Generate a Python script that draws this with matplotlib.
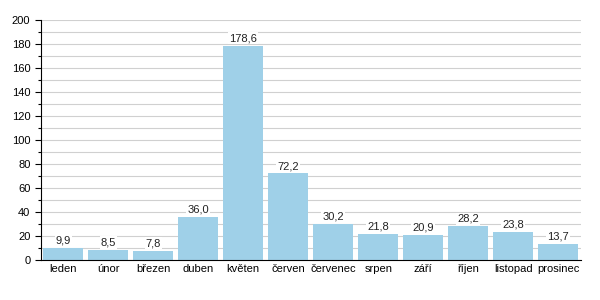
import matplotlib
matplotlib.use("Agg")
import matplotlib.pyplot as plt
from matplotlib.ticker import MultipleLocator

months = ["leden", "únor", "březen", "duben", "květen", "červen",
          "červenec", "srpen", "září", "říjen", "listopad", "prosinec"]
values = [9.9, 8.5, 7.8, 36.0, 178.6, 72.2, 30.2, 21.8, 20.9, 28.2, 23.8, 13.7]

plt.rcParams['font.family'] = ['Liberation Sans', 'DejaVu Sans']
fig = plt.figure(figsize=(6, 3), dpi=100)
ax = fig.add_axes([0.068, 0.133, 0.9, 0.8])

x = list(range(len(months)))
ax.bar(x, values, width=0.89, color='#9fd0e8', zorder=2)
for xi, v in zip(x, values):
    ax.text(xi, v + 2, f"{v:.1f}".replace('.', ','), ha='center', va='bottom',
            fontsize=8, color='#222222', zorder=3,
            bbox=dict(boxstyle='square,pad=0.1', fc='white', ec='none'))

ax.set_xlim(-0.5, 11.5)
ax.set_ylim(0, 200)
ax.yaxis.set_major_locator(MultipleLocator(20))
ax.yaxis.set_minor_locator(MultipleLocator(10))
ax.grid(axis='y', which='both', color='#d0d0d0', linewidth=0.8, zorder=0)
ax.set_xticks(x)
ax.set_xticklabels(months, fontsize=8)
ax.tick_params(axis='x', length=0, pad=3)
ax.tick_params(axis='y', which='major', length=4, labelsize=8, width=0.8)
ax.tick_params(axis='y', which='minor', length=2, width=0.8)
for s in ['top', 'right']:
    ax.spines[s].set_visible(False)
ax.spines['left'].set_linewidth(0.8)
ax.spines['bottom'].set_linewidth(0.8)
ax.set_axisbelow(True)

fig.savefig("out.png", dpi=100)
